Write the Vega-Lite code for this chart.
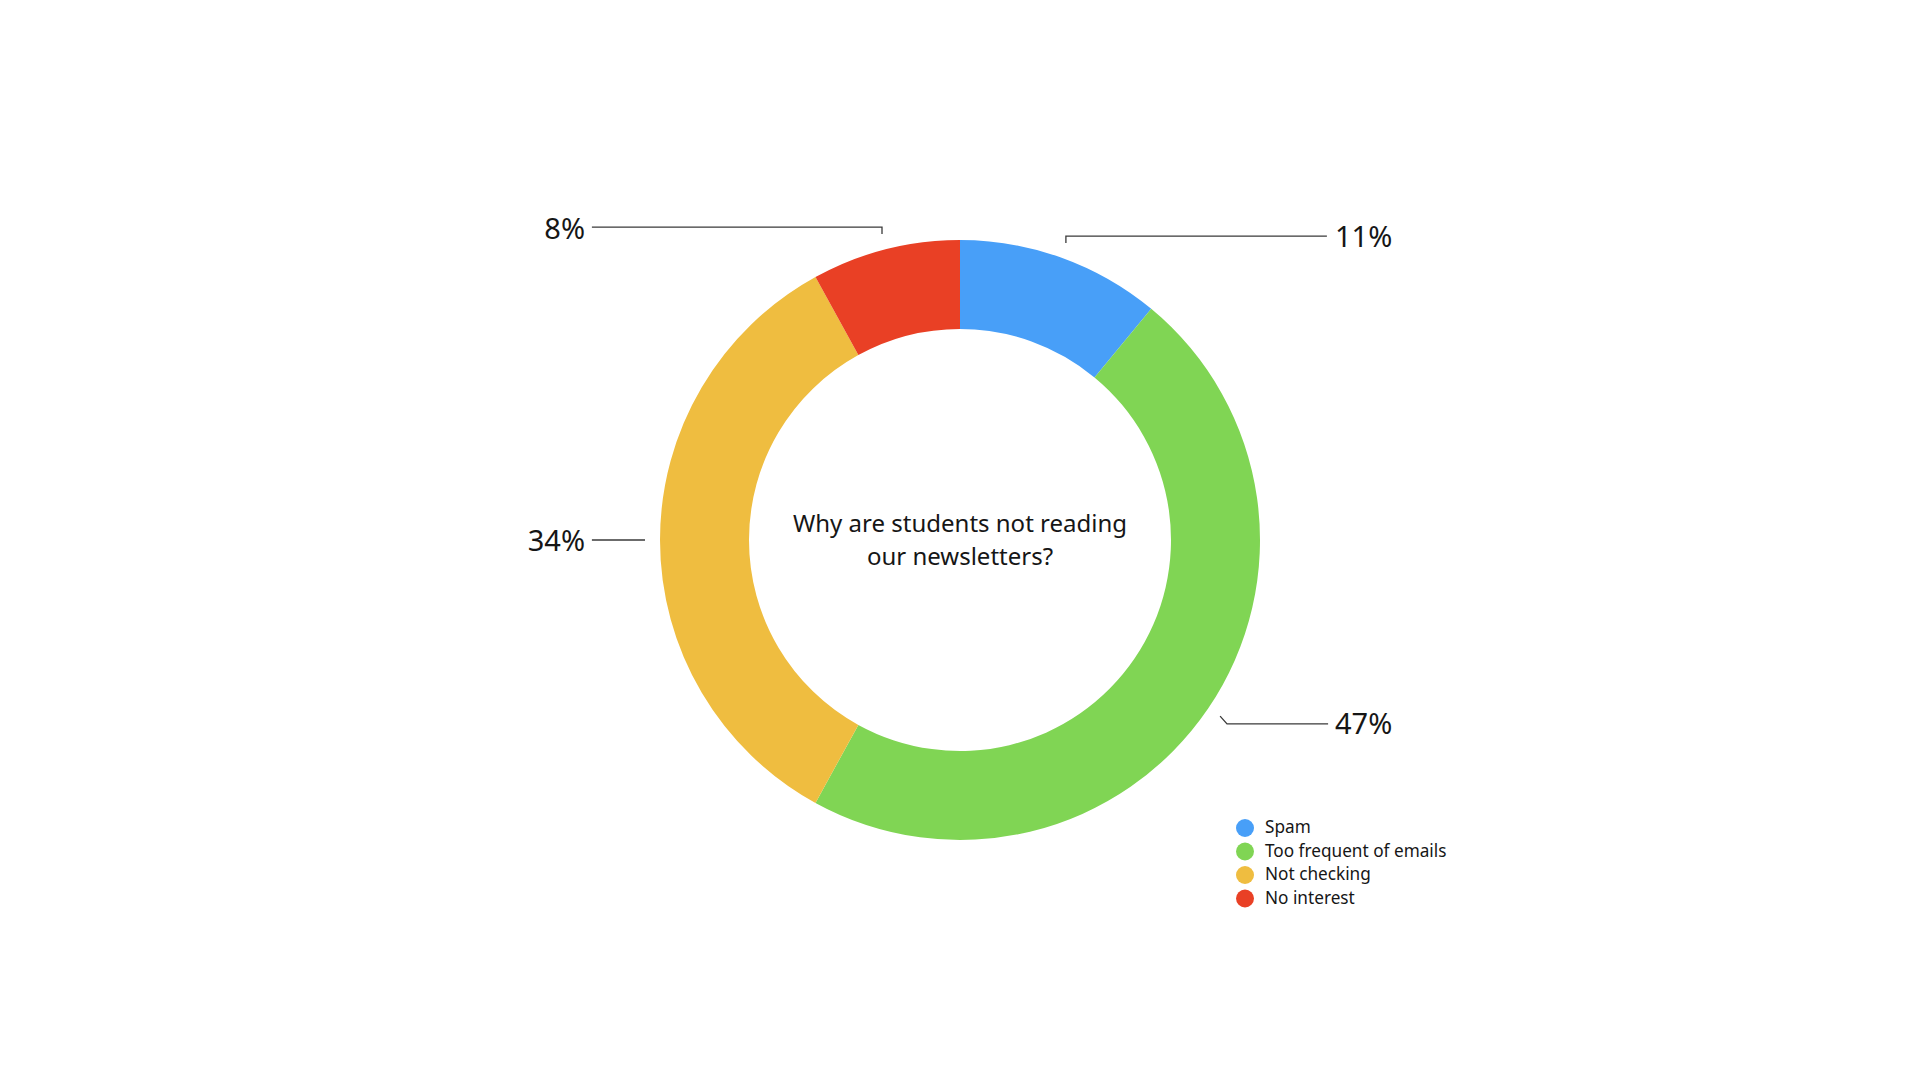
{
  "$schema": "https://vega.github.io/schema/vega-lite/v6.json",
  "width": 1920,
  "height": 1080,
  "autosize": {"type": "fit", "contains": "padding"},
  "padding": 0,
  "background": "white",
  "config": {"view": {"stroke": null}, "font": "Noto Sans"},
  "layer": [
    {
      "data": {"values": [
        {"reason": "Spam", "pct": 11, "order": 1},
        {"reason": "Too frequent of emails", "pct": 47, "order": 2},
        {"reason": "Not checking", "pct": 34, "order": 3},
        {"reason": "No interest", "pct": 8, "order": 4}
      ]},
      "mark": {"type": "arc", "outerRadius": 300, "innerRadius": 211},
      "encoding": {
        "theta": {"field": "pct", "type": "quantitative", "stack": true},
        "order": {"field": "order", "type": "quantitative"},
        "color": {
          "field": "reason", "type": "nominal",
          "scale": {"domain": ["Spam", "Too frequent of emails", "Not checking", "No interest"],
                    "range": ["#489FF8", "#80D554", "#EFBD40", "#E94025"]},
          "legend": {"orient": "none", "legendX": 1236, "legendY": 819, "title": null,
                     "labelFontSize": 17.2, "symbolSize": 324, "symbolType": "circle",
                     "symbolStrokeWidth": 0, "rowPadding": 5.5, "labelColor": "#161616",
                     "padding": 0, "labelOffset": 11, "labelLimit": 400}
        }
      }
    },
    {
      "data": {"values": [
        {"label": "8%", "pt": 0, "x": -0.26, "y": 1.02},
        {"label": "8%", "pt": 1, "x": -0.26, "y": 1.043},
        {"label": "8%", "pt": 2, "x": -1.227, "y": 1.043},
        {"label": "11%", "pt": 0, "x": 0.353, "y": 0.99},
        {"label": "11%", "pt": 1, "x": 0.353, "y": 1.013},
        {"label": "11%", "pt": 2, "x": 1.223, "y": 1.013},
        {"label": "34%", "pt": 0, "x": -1.05, "y": 0},
        {"label": "34%", "pt": 1, "x": -1.227, "y": 0},
        {"label": "47%", "pt": 0, "x": 0.867, "y": -0.587},
        {"label": "47%", "pt": 1, "x": 0.89, "y": -0.613},
        {"label": "47%", "pt": 2, "x": 1.227, "y": -0.613}
      ]},
      "mark": {"type": "line", "stroke": "#3a3a3a", "strokeWidth": 1.3},
      "encoding": {
        "x": {"field": "x", "type": "quantitative", "scale": {"domain": [-3.2, 3.2], "nice": false, "zero": false}, "axis": null},
        "y": {"field": "y", "type": "quantitative", "scale": {"domain": [-1.8, 1.8], "nice": false, "zero": false}, "axis": null},
        "detail": {"field": "label"},
        "order": {"field": "pt", "type": "quantitative"}
      }
    },
    {
      "data": {"values": [
        {"label": "8%", "x": -1.25, "y": 1.003},
        {"label": "11%", "x": 1.25, "y": 0.977},
        {"label": "34%", "x": -1.25, "y": -0.037},
        {"label": "47%", "x": 1.25, "y": -0.647}
      ]},
      "transform": [{"filter": "datum.x < 0"}],
      "mark": {"type": "text", "align": "right", "baseline": "alphabetic", "fontSize": 29, "color": "#161616"},
      "encoding": {
        "x": {"field": "x", "type": "quantitative", "scale": {"domain": [-3.2, 3.2], "nice": false, "zero": false}, "axis": null},
        "y": {"field": "y", "type": "quantitative", "scale": {"domain": [-1.8, 1.8], "nice": false, "zero": false}, "axis": null},
        "text": {"field": "label"}
      }
    },
    {
      "data": {"values": [
        {"label": "8%", "x": -1.25, "y": 1.003},
        {"label": "11%", "x": 1.25, "y": 0.977},
        {"label": "34%", "x": -1.25, "y": -0.037},
        {"label": "47%", "x": 1.25, "y": -0.647}
      ]},
      "transform": [{"filter": "datum.x > 0"}],
      "mark": {"type": "text", "align": "left", "baseline": "alphabetic", "fontSize": 29, "color": "#161616"},
      "encoding": {
        "x": {"field": "x", "type": "quantitative", "scale": {"domain": [-3.2, 3.2], "nice": false, "zero": false}, "axis": null},
        "y": {"field": "y", "type": "quantitative", "scale": {"domain": [-1.8, 1.8], "nice": false, "zero": false}, "axis": null},
        "text": {"field": "label"}
      }
    },
    {
      "data": {"values": [{"title": "Why are students not reading\nour newsletters?", "x": 0, "y": 0.05}]},
      "mark": {"type": "text", "align": "center", "baseline": "middle", "fontSize": 24, "lineHeight": 33, "lineBreak": "\n", "color": "#161616"},
      "encoding": {
        "x": {"field": "x", "type": "quantitative", "scale": {"domain": [-3.2, 3.2], "nice": false, "zero": false}, "axis": null},
        "y": {"field": "y", "type": "quantitative", "scale": {"domain": [-1.8, 1.8], "nice": false, "zero": false}, "axis": null},
        "text": {"field": "title"}
      }
    }
  ]
}
